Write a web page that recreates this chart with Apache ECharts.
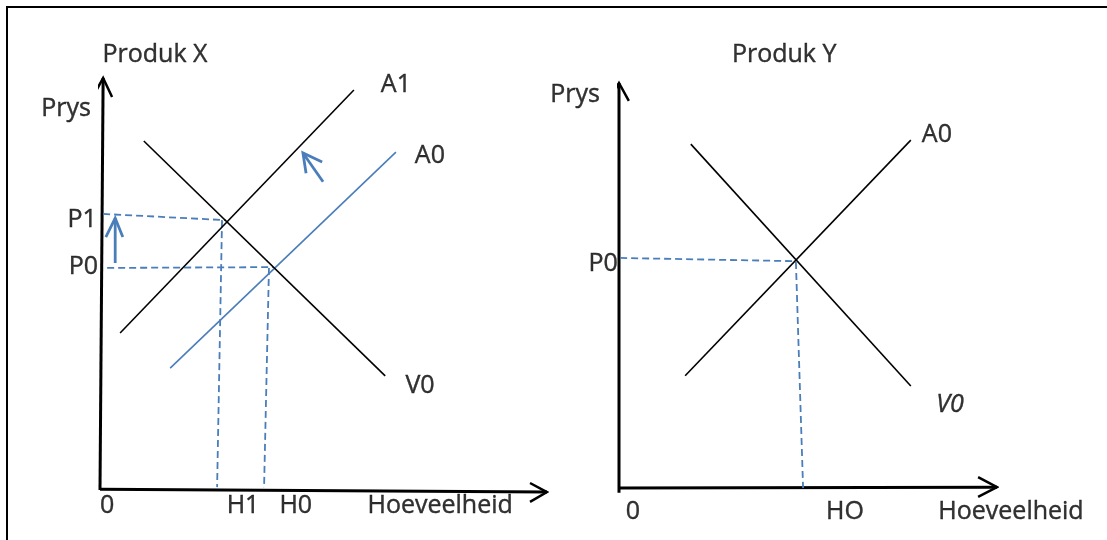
<!DOCTYPE html>
<html>
<head>
<meta charset="utf-8">
<script src="https://cdn.jsdelivr.net/npm/echarts@6/dist/echarts.min.js"></script>
<style>
  html, body { margin: 0; padding: 0; background: #fff; }
  #chart { width: 1107px; height: 540px; }
</style>
</head>
<body>
<div id="chart"></div>
<script>
// both panels use a 0..100 unit space, origin where the axes meet

// --- Produk X (left)
const xAxisLine = [[0, 0.2], [100, -0.5]]
const xAxisHead = [[96.2, 1.7], [100, -0.5], [96.2, -2.9]]
const xPriceLine = [[0, 0], [0.7, 100]]
const xPriceHead = [[-1.6, 95.4], [0.7, 100], [2.7, 95.4]]
const xSupplyA1 = [[4.5, 38.1], [56.8, 97.1]]
const xSupplyA0 = [[15.7, 29.6], [66.2, 82.0]]
const xDemandV0 = [[9.8, 84.7], [63.8, 27.7]]
const xGuideP1 = [[0.7, 67.0], [28.2, 65.5]]
const xGuideH1 = [[27.3, 65.5], [26.2, 0.7]]
const xGuideP0 = [[1.6, 53.9], [38.7, 54.1]]
const xGuideH0 = [[37.8, 53.9], [36.7, 0.5]]
const xPriceUp = [[3.4, 55.1], [3.4, 66.0]]
const xPriceUpHead = [[1.3, 61.4], [3.4, 66.0], [5.1, 61.4]]
const xShift = [[49.9, 74.8], [45.4, 81.8]]
const xShiftHead = [[49.7, 79.6], [45.4, 81.8], [46.1, 76.9]]
const xLabels = [
  ['Produk X', 12.3, 105.6], ['Prys', -7.6, 92.5],
  ['P1', -4.0, 65.5], ['P0', -3.7, 54.1],
  ['0', 1.6, -3.9], ['H1', 32.0, -3.9], ['H0', 43.8, -3.9], ['Hoeveelheid', 76.1, -3.9],
  ['A1', 66.2, 98.3], ['A0', 73.8, 81.1], ['V0', 71.6, 25.2]
]

// --- Produk Y (right)
const yAxisLine = [[0, 0], [100, 0.2]]
const yAxisHead = [[95.0, 2.7], [100, 0.2], [95.0, -2.2]]
const yPriceLine = [[0, -1.2], [0, 100]]
const yPriceHead = [[-2.6, 95.6], [0, 100], [2.6, 95.6]]
const ySupplyA0 = [[17.5, 27.7], [77.2, 85.9]]
const yDemandV0 = [[19.0, 84.9], [77.2, 25.2]]
const yGuideP0 = [[0.3, 56.8], [46.8, 56.0]]
const yGuideH0 = [[46.8, 55.8], [48.7, 0]]
const yLabels = [
  ['Produk Y', 43.7, 106.9], ['Prys', -11.6, 97.0], ['P0', -4.2, 55.3],
  ['0', 3.7, -5.9], ['HO', 59.8, -5.9], ['Hoeveelheid', 103.7, -5.9],
  ['A0', 84.1, 87.2], ['V0', 87.6, 20.5, 'italic']
]

const BLUE = '#4a7ebb'
const FONT = 'Open Sans'

function seg(data, idx, color, width, dashed) {
  return {
    type: 'line',
    xAxisIndex: idx,
    yAxisIndex: idx,
    data: data,
    showSymbol: false,
    symbol: 'none',
    clip: false,
    silent: true,
    lineStyle: {
      color: color,
      width: width,
      type: dashed ? [7, 4] : 'solid',
      cap: 'butt',
      join: 'miter'
    }
  }
}

function texts(list, idx) {
  return {
    type: 'scatter',
    xAxisIndex: idx,
    yAxisIndex: idx,
    clip: false,
    silent: true,
    symbolSize: 1,
    itemStyle: { color: 'rgba(0,0,0,0)' },
    data: list.map(t => ({
      name: t[0],
      value: [t[1], t[2]],
      label: { fontStyle: t[3] || 'normal' }
    })),
    label: {
      show: true,
      position: 'inside',
      formatter: p => p.name,
      color: '#000',
      textBorderColor: '#000',
      textBorderWidth: 0.4,
      fontFamily: FONT,
      fontSize: 25,
      align: 'center',
      verticalAlign: 'middle'
    }
  }
}

const chart = echarts.init(document.getElementById('chart'), null, { renderer: 'canvas' })

chart.setOption({
  animation: false,
  backgroundColor: '#fff',
  graphic: [{
    type: 'rect',
    shape: { x: 7, y: 7, width: 1200, height: 600 },
    style: { fill: 'none', stroke: '#000', lineWidth: 2 },
    silent: true
  }],
  grid: [
    { left: 100, top: 78, width: 447, height: 412 },
    { left: 619, top: 83, width: 378, height: 405 }
  ],
  xAxis: [
    { gridIndex: 0, type: 'value', min: 0, max: 100, show: false },
    { gridIndex: 1, type: 'value', min: 0, max: 100, show: false }
  ],
  yAxis: [
    { gridIndex: 0, type: 'value', min: 0, max: 100, show: false },
    { gridIndex: 1, type: 'value', min: 0, max: 100, show: false }
  ],
  series: [
    seg(xAxisLine, 0, '#000', 3),
    seg(xAxisHead, 0, '#000', 2.5),
    seg(xPriceLine, 0, '#000', 3),
    seg(xPriceHead, 0, '#000', 2.5),
    seg(xGuideP1, 0, BLUE, 1.8, true),
    seg(xGuideH1, 0, BLUE, 1.8, true),
    seg(xGuideP0, 0, BLUE, 1.8, true),
    seg(xGuideH0, 0, BLUE, 1.8, true),
    seg(xSupplyA0, 0, BLUE, 1.6),
    seg(xSupplyA1, 0, '#000', 1.6),
    seg(xDemandV0, 0, '#000', 1.6),
    seg(xPriceUp, 0, BLUE, 2.8),
    seg(xPriceUpHead, 0, BLUE, 2.8),
    seg(xShift, 0, BLUE, 2.8),
    seg(xShiftHead, 0, BLUE, 2.8),
    texts(xLabels, 0),

    seg(yAxisLine, 1, '#000', 3),
    seg(yAxisHead, 1, '#000', 2.5),
    seg(yPriceLine, 1, '#000', 3),
    seg(yPriceHead, 1, '#000', 2.5),
    seg(yGuideP0, 1, BLUE, 1.8, true),
    seg(yGuideH0, 1, BLUE, 1.8, true),
    seg(ySupplyA0, 1, '#000', 1.6),
    seg(yDemandV0, 1, '#000', 1.6),
    texts(yLabels, 1)
  ]
})
</script>
</body>
</html>
